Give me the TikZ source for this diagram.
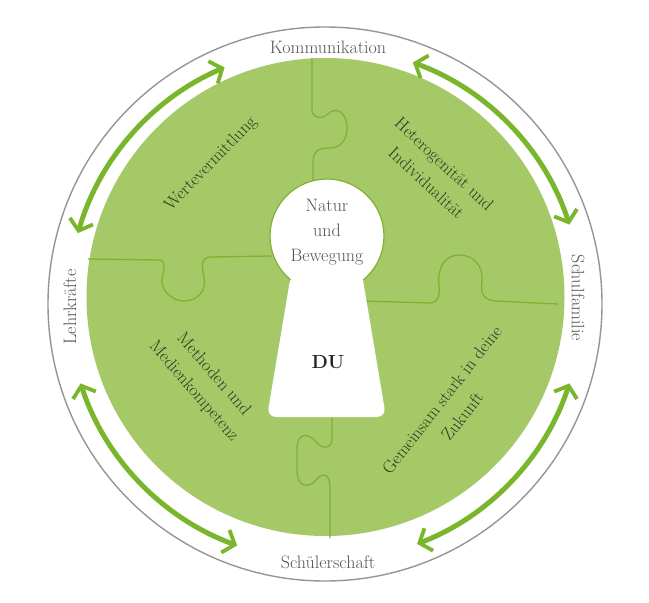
\documentclass[tikz,border=0pt]{standalone}
\usetikzlibrary{arrows.meta}
\definecolor{disk}{RGB}{166,201,104}
\definecolor{arr}{RGB}{122,182,44}
\definecolor{puz}{RGB}{126,178,50}
\definecolor{ringc}{RGB}{150,150,150}
\definecolor{ringtext}{RGB}{85,85,85}
\definecolor{intext}{RGB}{48,58,34}
\begin{document}
\begin{tikzpicture}[x=1pt,y=-1pt,
  ringlbl/.style={text=ringtext,font=\fontsize{18}{20}\selectfont, inner sep=0pt},
  seglbl/.style={text=intext,font=\fontsize{17.5}{26}\selectfont, align=center, inner sep=0pt},
  dblarrow/.style={draw=arr, line width=5pt,
    {Straight Barb[length=10pt,width=24pt,line width=3.8pt]}-{Straight Barb[length=10pt,width=24pt,line width=3.8pt]}},
  puzline/.style={draw=puz, line width=1.3pt}]
\useasboundingbox (0,0) rectangle (649,603);
\fill[white] (0,0) rectangle (649,603);
\coordinate (c) at (325,304);
\draw[ringc, line width=1.4pt] (c) circle[radius=277];
\fill[disk] (325.5,297) circle[radius=239];

% puzzle seams
\draw[puzline] (312,58) -- (312,110) .. controls (312,118) and (322,120) .. (328,114)
  .. controls (336,106) and (347,112) .. (347,128) .. controls (347,142) and (338,149) .. (328,148)
  .. controls (318,148) and (313,152) .. (313,162) -- (313,184);
\draw[puzline] (88,259) -- (160,260) .. controls (166,261) and (164,270) .. (162,278)
  .. controls (160,290) and (172,301) .. (184,301) .. controls (198,301) and (207,290) .. (204,277)
  .. controls (202,268) and (200,258) .. (210,257) -- (272,256);
\draw[puzline] (362,301) -- (430,303) .. controls (438,303) and (440,296) .. (439,285)
  .. controls (437,268) and (445,255) .. (459,255) .. controls (474,255) and (483,266) .. (482,280)
  .. controls (481,290) and (480,299) .. (495,301) -- (558,304);
\draw[puzline] (332,417) -- (332,440) .. controls (332,448) and (322,450) .. (316,442)
  .. controls (310,434) and (297,430) .. (297,450) -- (297,470) .. controls (297,487) and (308,489) .. (316,480)
  .. controls (322,473) and (330,472) .. (330,488) -- (330,538);

% keyhole
\draw[fill=white, draw=puz, line width=1.2pt] (327,236) circle[radius=57];
\fill[white, rounded corners=9pt] (291,274) [sharp corners] -- (362,274) [rounded corners=9pt] -- (386,417) -- (267,417) -- cycle;

% arrows
\draw[dblarrow] (c) ++(-113:257) arc[start angle=-113, end angle=-164, radius=257];
\draw[dblarrow] (c) ++(-70:257) arc[start angle=-70, end angle=-18, radius=257];
\draw[dblarrow] (c) ++(-198:257) arc[start angle=-198, end angle=-250, radius=257];
\draw[dblarrow] (c) ++(-342:257) arc[start angle=-342, end angle=-291, radius=257];

% ring labels
\node[ringlbl] (komm) at (328,47) {Kommunikation};
\node[ringlbl] (schueler) at (328,562) {Schülerschaft};
\node[ringlbl, rotate=90] (lehr) at (70,307) {Lehrkräfte};
\node[ringlbl, rotate=-90] (schulf) at (578,298) {Schulfamilie};

% segment labels
\node[seglbl, rotate=46] (werte) at (211,164) {Wertevermittlung};
\node[seglbl, rotate=-43] (hetero) at (435.5,173.5) {Heterogenität und\\Individualität};
\node[seglbl, rotate=-49] (meth) at (203.5,383) {Methoden und\\Medienkompetenz};
\node[seglbl, rotate=52] (gemein) at (452,408) {Gemeinsam stark in deine\\Zukunft};

% keyhole labels
\node[text=ringtext, font=\fontsize{18}{25}\selectfont, align=center, inner sep=0pt] (natur) at (327,232) {Natur\\und\\Bewegung};
\node[text=black!85, font=\fontsize{19}{21}\selectfont\bfseries, inner sep=0pt] (du) at (328,362) {DU};
\end{tikzpicture}
\end{document}
